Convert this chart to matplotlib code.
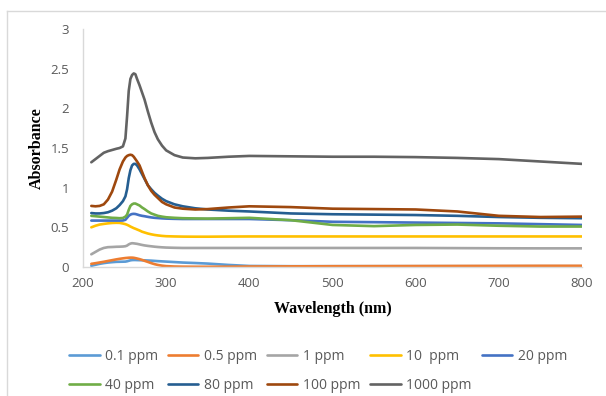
import numpy as np
import matplotlib
matplotlib.use("Agg")
import matplotlib.pyplot as plt
from matplotlib.ticker import FormatStrFormatter
from matplotlib.lines import Line2D

# ---------------- data ----------------
wavelength = [210, 215, 220, 225, 230, 235, 240, 244, 248, 251, 253, 255, 257, 259, 261, 263,
              265, 268, 271, 274, 278, 282, 286, 290, 295, 300, 310, 320, 335, 350, 375, 400,
              450, 500, 550, 600, 650, 700, 750, 800]

ppm_0_1 = [0.015, 0.028, 0.04, 0.049, 0.056, 0.061, 0.065, 0.066, 0.067, 0.068, 0.072, 0.078, 0.084, 0.087, 0.088, 0.088,
           0.087, 0.086, 0.085, 0.084, 0.082, 0.08, 0.077, 0.074, 0.071, 0.068, 0.062, 0.056, 0.05, 0.043, 0.026, 0.013,
           0.01, 0.01, 0.01, 0.01, 0.01, 0.01, 0.01, 0.01]
ppm_0_5 = [0.04, 0.048, 0.057, 0.066, 0.076, 0.086, 0.096, 0.103, 0.109, 0.113, 0.115, 0.117, 0.118, 0.118, 0.116, 0.112,
           0.107, 0.099, 0.089, 0.078, 0.064, 0.049, 0.036, 0.026, 0.017, 0.011, 0.006, 0.004, 0.003, 0.003, 0.004, 0.006,
           0.008, 0.01, 0.011, 0.012, 0.013, 0.014, 0.015, 0.015]
ppm_1 = [0.16, 0.19, 0.22, 0.24, 0.25, 0.252, 0.255, 0.256, 0.258, 0.262, 0.27, 0.285, 0.295, 0.30, 0.298, 0.295,
         0.292, 0.285, 0.278, 0.272, 0.266, 0.261, 0.256, 0.252, 0.248, 0.245, 0.242, 0.24, 0.24, 0.24, 0.24, 0.24,
         0.24, 0.24, 0.24, 0.24, 0.238, 0.236, 0.235, 0.235]
ppm_10 = [0.50, 0.52, 0.535, 0.543, 0.55, 0.555, 0.557, 0.556, 0.548, 0.54, 0.532, 0.522, 0.51, 0.50, 0.49, 0.482,
          0.473, 0.46, 0.445, 0.435, 0.422, 0.412, 0.404, 0.398, 0.392, 0.388, 0.385, 0.383, 0.382, 0.382, 0.384, 0.385,
          0.385, 0.385, 0.385, 0.385, 0.385, 0.385, 0.385, 0.385]
ppm_20 = [0.585, 0.585, 0.585, 0.585, 0.585, 0.585, 0.585, 0.585, 0.586, 0.595, 0.62, 0.645, 0.66, 0.668, 0.67, 0.668,
          0.662, 0.652, 0.645, 0.64, 0.632, 0.625, 0.62, 0.617, 0.613, 0.61, 0.607, 0.605, 0.605, 0.605, 0.605, 0.605,
          0.59, 0.57, 0.565, 0.56, 0.555, 0.55, 0.54, 0.53]
ppm_40 = [0.645, 0.64, 0.635, 0.63, 0.625, 0.62, 0.618, 0.615, 0.618, 0.635, 0.66, 0.72, 0.77, 0.79, 0.80, 0.80,
          0.79, 0.775, 0.75, 0.73, 0.70, 0.675, 0.66, 0.645, 0.635, 0.627, 0.62, 0.615, 0.612, 0.61, 0.615, 0.62,
          0.59, 0.53, 0.515, 0.53, 0.535, 0.52, 0.51, 0.51]
ppm_80 = [0.68, 0.675, 0.675, 0.68, 0.69, 0.71, 0.74, 0.78, 0.83, 0.89, 0.98, 1.12, 1.22, 1.28, 1.30, 1.30,
          1.28, 1.23, 1.17, 1.11, 1.03, 0.98, 0.935, 0.90, 0.86, 0.83, 0.79, 0.765, 0.74, 0.725, 0.71, 0.70,
          0.675, 0.665, 0.66, 0.655, 0.645, 0.63, 0.62, 0.615]
ppm_100 = [0.77, 0.765, 0.77, 0.79, 0.85, 0.95, 1.10, 1.23, 1.33, 1.38, 1.40, 1.41, 1.415, 1.41, 1.39, 1.36,
           1.33, 1.28, 1.20, 1.12, 1.03, 0.96, 0.91, 0.87, 0.82, 0.79, 0.75, 0.735, 0.725, 0.73, 0.75, 0.765,
           0.755, 0.735, 0.73, 0.725, 0.70, 0.645, 0.63, 0.635]
ppm_1000 = [1.32, 1.36, 1.40, 1.44, 1.46, 1.475, 1.49, 1.50, 1.52, 1.62, 1.90, 2.22, 2.37, 2.42, 2.44, 2.43,
            2.37, 2.29, 2.20, 2.11, 1.96, 1.82, 1.70, 1.61, 1.53, 1.47, 1.41, 1.38, 1.37, 1.375, 1.39, 1.40,
            1.395, 1.39, 1.39, 1.385, 1.375, 1.36, 1.33, 1.30]

labels = ["0.1 ppm", "0.5 ppm", "1 ppm", "10  ppm", "20 ppm",
          "40 ppm", "80 ppm", "100 ppm", "1000 ppm"]
series = [ppm_0_1, ppm_0_5, ppm_1, ppm_10, ppm_20, ppm_40, ppm_80, ppm_100, ppm_1000]
colors = ["#5B9BD5", "#ED7D31", "#A5A5A5", "#FFC000", "#4472C4",
          "#70AD47", "#255E91", "#9E480E", "#636363"]

# ---------------- figure ----------------
fig = plt.figure(figsize=(6.06, 3.96), dpi=100)
ax = fig.add_axes([83 / 606, 1 - 267 / 396, 499 / 606, 238 / 396])

handles = []
for y, c, lab in zip(series, colors, labels):
    h, = ax.plot(wavelength, y, color=c, lw=1.9, label=lab,
                 solid_capstyle="round", solid_joinstyle="round")
    handles.append(h)

ax.set_xlim(200, 800)
ax.set_ylim(0, 3)
ax.set_xticks([200, 300, 400, 500, 600, 700, 800])
ax.set_yticks([0, 0.5, 1, 1.5, 2, 2.5, 3])
ax.yaxis.set_major_formatter(FormatStrFormatter("%g"))

for s in ["top", "right"]:
    ax.spines[s].set_visible(False)
for s in ["left", "bottom"]:
    ax.spines[s].set_color("#D9D9D9")
    ax.spines[s].set_linewidth(1.0)

ax.tick_params(axis="both", length=0, colors="#595959")
ax.tick_params(axis="x", pad=7)
ax.tick_params(axis="y", pad=10)
for t in ax.get_xticklabels() + ax.get_yticklabels():
    t.set_fontfamily("Open Sans")
    t.set_fontsize(9.5)

ax.set_xlabel("Wavelength (nm)", family="Liberation Serif", weight="bold",
              fontsize=11.5, color="black", labelpad=8)
ax.set_ylabel("Absorbance", family="Liberation Serif", weight="bold",
              fontsize=11.5, color="black", labelpad=4)

# legend filled row by row like Excel
order = [0, 5, 1, 6, 2, 7, 3, 8, 4]
leg = fig.legend([handles[i] for i in order], [labels[i] for i in order],
                 loc="upper left", bbox_to_anchor=(62 / 606, 1 - 342 / 396),
                 ncol=5, frameon=False, borderpad=0, handlelength=2.2,
                 handletextpad=0.4, columnspacing=0.7, labelspacing=1.0,
                 prop={"family": "Open Sans", "size": 10})
for t in leg.get_texts():
    t.set_color("#595959")

# chart frame (only top and left edges show in the crop)
fig.add_artist(Line2D([7 / 606, 1.0], [1 - 11 / 396, 1 - 11 / 396],
                      transform=fig.transFigure, color="#D9D9D9", lw=1))
fig.add_artist(Line2D([7 / 606, 7 / 606], [0.0, 1 - 11 / 396],
                      transform=fig.transFigure, color="#D9D9D9", lw=1))

fig.savefig("out.png", dpi=100)
